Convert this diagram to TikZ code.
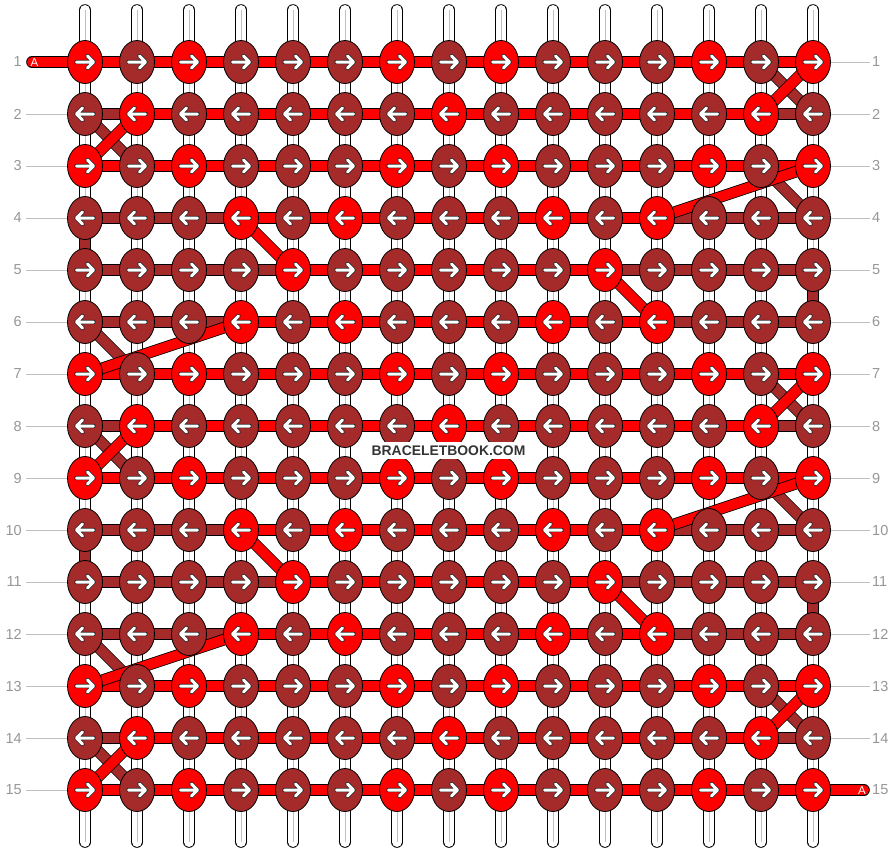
\documentclass[tikz,border=0pt]{standalone}
\usepackage{fontspec}
\setmainfont{Liberation Sans}
\usetikzlibrary{shapes.geometric}
\pgfdeclarelayer{back}
\pgfsetlayers{back,main}
\definecolor{knotred}{RGB}{255,0,0}
\definecolor{knotbrown}{RGB}{165,42,42}
\definecolor{numgray}{RGB}{150,150,150}
\definecolor{rulegray}{RGB}{192,192,192}
\definecolor{brandgray}{RGB}{51,51,51}
\begin{document}
\begin{tikzpicture}[x=1pt,y=-1pt]
	\tikzset{knot/.style={ellipse, draw=black, line width=0.8pt, minimum width=35pt, minimum height=43pt, inner sep=0pt},
		strand/.style={draw=black, line width=0.8pt, double=white, double distance=10pt, line cap=round},
		band/.style={draw=black, line width=0.8pt, double distance=10pt},
		num/.style={text=numgray, font=\fontsize{14.5}{16}\selectfont, inner sep=0pt},
		tick/.style={draw=rulegray, line width=0.8pt},
		knotarrow/.pic={
			\draw[black!85, line width=4.4pt, line cap=round, line join=round] (-8.5,0) -- (8,0) (2.5,-6) -- (8.5,0) -- (2.5,6);
			\draw[white, line width=3pt, line cap=round, line join=round] (-8.5,0) -- (8,0) (2.5,-6) -- (8.5,0) -- (2.5,6);
		}};
	\useasboundingbox (0,0) rectangle (896,852);

	\foreach \r/\reds in {1/{1,3,7,9,13,15}, 2/{2,8,14}, 3/{1,3,7,9,13,15}, 4/{4,6,10,12}, 5/{5,11}, 6/{4,6,10,12},
		7/{1,3,7,9,13,15}, 8/{2,8,14}, 9/{1,3,7,9,13,15}, 10/{4,6,10,12}, 11/{5,11}, 12/{4,6,10,12},
		13/{1,3,7,9,13,15}, 14/{2,8,14}, 15/{1,3,7,9,13,15}}
	{
		\foreach \c in {1,...,15}
		{
			\gdef\fillcol{knotbrown}
			\foreach \x in \reds {\ifnum\x=\c\relax \gdef\fillcol{knotred}\fi}
			\node[knot, fill=\fillcol] (k\c-\r) at ({33+52*\c},{10+52*\r}) {};
			\ifodd\r\relax
				\pic at (k\c-\r) {knotarrow};
			\else
				\pic[xscale=-1] at (k\c-\r) {knotarrow};
			\fi
		}
	}

	\begin{pgfonlayer}{back}
		\foreach \c in {1,...,15}
		{
			\coordinate (t\c) at ({33+52*\c},10);
			\coordinate (u\c) at ({33+52*\c},842);
			\draw[strand] (t\c) -- (u\c);
			\draw[rulegray, line width=0.7pt] (t\c) -- (u\c);
		}

		\foreach \r/\a/\b in {1/1/15, 2/2/14, 3/1/15, 4/4/12, 5/5/11, 6/4/12, 7/1/15, 8/2/14,
			9/1/15, 10/4/12, 11/5/11, 12/4/12, 13/1/15, 14/2/14, 15/1/15}
		{
			\foreach \c [evaluate=\c as \d using int(\c+1)] in {1,...,14}
			{
				\ifnum\c<\a\relax \gdef\barcol{knotbrown}\else\ifnum\d>\b\relax \gdef\barcol{knotbrown}\else\gdef\barcol{knotred}\fi\fi
				\draw[band, double=\barcol] (k\c-\r.center) -- (k\d-\r.center);
			}
		}

		\foreach \p/\q/\s/\t in {14/1/15/2, 1/2/2/3, 14/3/15/4, 1/4/1/5, 15/5/15/6, 1/6/2/7, 14/7/15/8,
			1/8/2/9, 14/9/15/10, 1/10/1/11, 15/11/15/12, 1/12/2/13, 14/13/15/14, 1/14/2/15}
			\draw[band, double=knotbrown] (k\p-\q.center) -- (k\s-\t.center);

		\foreach \p/\q/\s/\t in {15/1/14/2, 2/2/1/3, 15/3/12/4, 4/4/5/5, 11/5/12/6, 4/6/1/7, 15/7/14/8,
			2/8/1/9, 15/9/12/10, 4/10/5/11, 11/11/12/12, 4/12/1/13, 15/13/14/14, 2/14/1/15}
			\draw[band, double=knotred] (k\p-\q.center) -- (k\s-\t.center);

		\coordinate (ain) at (32,62);
		\coordinate (aout) at (864,790);
		\draw[band, double=knotred, line cap=round] (ain) -- (k1-1.center);
		\draw[band, double=knotred, line cap=round] (k15-15.center) -- (aout);
	\end{pgfonlayer}

	\node[text=white, font=\fontsize{11.5}{13}\selectfont, inner sep=0pt] (astart) at (34.5,62.5) {A};
	\node[text=white, font=\fontsize{11.5}{13}\selectfont, inner sep=0pt] (aend) at (862,790.5) {A};

	\foreach \r in {1,...,15}
	{
		\node[num, anchor=east] (ln\r) at (22,{10+52*\r}) {\r};
		\node[num, anchor=west] (rn\r) at (872,{10+52*\r}) {\r};
	}
	\foreach \r in {2,...,15}
	{
		\coordinate (ll\r) at (26,{10+52*\r});
		\draw[tick] (ll\r) -- (k1-\r);
	}
	\foreach \r in {1,...,14}
	{
		\coordinate (rr\r) at (870,{10+52*\r});
		\draw[tick] (k15-\r) -- (rr\r);
	}

	\node[fill=white, text=brandgray, font=\bfseries\fontsize{13.9}{16}\selectfont, minimum height=16pt, inner xsep=4pt] (brand) at (448.5,450.5) {BRACELETBOOK.COM};
\end{tikzpicture}
\end{document}
